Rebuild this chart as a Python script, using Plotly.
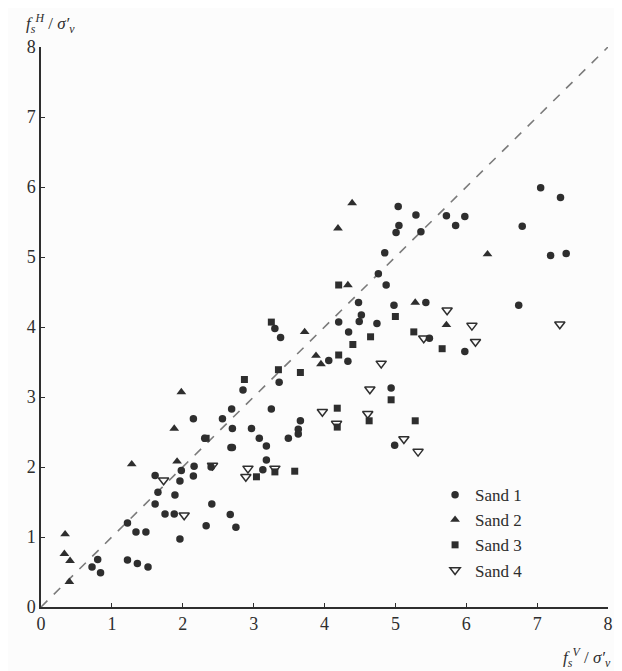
import plotly.graph_objects as go

# ---- data ----
sand1_x = [0.80, 0.72, 0.84, 1.22, 1.34, 1.48, 1.22, 1.36, 1.51, 1.98, 2.16, 2.15, 1.96, 1.61,
           1.65, 1.61, 1.89, 1.75, 1.88, 1.96, 2.41, 2.33, 2.67, 2.75, 2.40, 2.31, 2.68, 3.38, 2.85,
           3.36, 2.69, 3.25, 2.15, 2.56, 2.70, 2.97, 3.08, 3.49, 2.70, 3.18, 3.18, 3.13, 4.48,
           4.98, 5.43, 4.52, 4.49, 4.20, 4.74, 3.30, 4.34, 5.48, 4.06, 4.33, 4.94, 3.66, 3.63,
           3.63, 4.99, 5.04, 5.29, 5.72, 5.98, 5.85, 5.05, 5.01, 5.36, 4.85, 4.76, 4.87, 5.98,
           7.05, 7.33, 6.79, 7.19, 7.41, 6.74]
sand1_y = [0.68, 0.57, 0.49, 1.20, 1.07, 1.07, 0.67, 0.62, 0.57, 1.95, 2.01, 1.87, 1.80, 1.88,
           1.64, 1.47, 1.60, 1.33, 1.33, 0.97, 1.47, 1.16, 1.32, 1.14, 2.00, 2.41, 2.28, 3.85, 3.10,
           3.21, 2.83, 2.83, 2.69, 2.69, 2.55, 2.55, 2.41, 2.41, 2.28, 2.30, 2.10, 1.96, 4.35,
           4.31, 4.35, 4.17, 4.08, 4.07, 4.05, 3.98, 3.93, 3.84, 3.52, 3.51, 3.13, 2.66, 2.54,
           2.47, 2.31, 5.72, 5.60, 5.59, 5.58, 5.45, 5.45, 5.35, 5.36, 5.06, 4.76, 4.60, 3.65,
           5.99, 5.85, 5.44, 5.02, 5.05, 4.31]

sand2_x = [0.34, 0.33, 0.41, 0.40, 1.28, 1.92, 1.98, 1.88, 3.72, 3.88, 3.95, 4.39, 4.19, 4.33,
           5.28, 5.72, 6.30]
sand2_y = [1.04, 0.76, 0.66, 0.36, 2.04, 2.08, 3.07, 2.55, 3.93, 3.59, 3.47, 5.77, 5.41, 4.60,
           4.35, 4.03, 5.04]

sand3_x = [2.87, 3.35, 3.66, 2.33, 3.04, 3.58, 3.25, 5.00, 4.65, 5.26, 4.40, 4.20, 4.94, 4.18,
           5.28, 4.20, 5.66, 4.63, 3.30, 4.18]
sand3_y = [3.25, 3.39, 3.35, 2.41, 1.86, 1.94, 4.07, 4.15, 3.86, 3.93, 3.75, 3.60, 2.96, 2.84,
           2.66, 4.60, 3.69, 2.66, 1.93, 2.57]

sand4_x = [1.73, 2.02, 2.42, 2.92, 2.89, 3.30, 3.97, 4.17, 4.61, 4.64, 4.80, 5.12, 5.32, 5.40,
           5.73, 6.08, 6.13, 7.32]
sand4_y = [1.81, 1.31, 2.02, 1.98, 1.86, 1.98, 2.79, 2.62, 2.76, 3.11, 3.48, 2.40, 2.22, 3.84,
           4.24, 4.02, 3.79, 4.04]

line_x = [0, 8]
line_y = [0, 8]
tick_vals = [0, 1, 2, 3, 4, 5, 6, 7, 8]
series_names = ["Sand 1", "Sand 2", "Sand 3", "Sand 4"]

# ---- figure ----
ink = "#2e2e2e"
serif = "Liberation Serif"

fig = go.Figure()
fig.add_trace(go.Scatter(x=line_x, y=line_y, mode="lines", showlegend=False,
                         line=dict(color="#7a7a7a", width=1.6, dash="dash"), hoverinfo="skip"))

fig.add_trace(go.Scatter(x=sand1_x, y=sand1_y, mode="markers", name=series_names[0],
                         legendgroup="g1",
                         marker=dict(symbol="circle", size=7.5, color=ink)))
fig.add_trace(go.Scatter(x=sand2_x, y=sand2_y, mode="markers", name=series_names[1],
                         legendgroup="g2",
                         marker=dict(symbol="triangle-up", size=8.5, color=ink)))
fig.add_trace(go.Scatter(x=sand3_x, y=sand3_y, mode="markers", name=series_names[2],
                         legendgroup="g3",
                         marker=dict(symbol="square", size=7, color=ink)))
fig.add_trace(go.Scatter(x=sand4_x, y=sand4_y, mode="markers", name=series_names[3],
                         legendgroup="g4",
                         marker=dict(symbol="triangle-down-open", size=9, color=ink,
                                     line=dict(width=1.5, color=ink))))

axis_common = dict(range=[0, 8], tickvals=tick_vals, showline=True, linecolor=ink, linewidth=1.5,
                   ticks="inside", ticklen=4, tickcolor=ink, showgrid=False, zeroline=False,
                   tickfont=dict(family=serif, size=18, color=ink))

fig.update_layout(
    width=622, height=671,
    paper_bgcolor="#fcfcfc", plot_bgcolor="#fcfcfc",
    margin=dict(l=33, r=22, t=39, b=72),
    xaxis=dict(**axis_common),
    yaxis=dict(**axis_common),
    legend=dict(x=0.695, y=0.232, xanchor="left", yanchor="top", bgcolor="rgba(0,0,0,0)",
                font=dict(family=serif, size=17, color=ink), tracegroupgap=0,
                itemwidth=30),
    annotations=[
        dict(text="<i>f<sub>s</sub><sup>H</sup></i> / <i>σ′<sub>v</sub></i>",
             xref="paper", yref="paper", x=-0.03, y=1.0, yshift=38, xanchor="left",
             yanchor="top", showarrow=False, font=dict(family=serif, size=17, color=ink)),
        dict(text="<i>f<sub>s</sub><sup>V</sup></i> / <i>σ′<sub>v</sub></i>",
             xref="paper", yref="paper", x=1.008, y=0, yshift=-36, xanchor="right",
             yanchor="top", showarrow=False, font=dict(family=serif, size=17, color=ink)),
    ],
)

fig.write_html("out.html")
